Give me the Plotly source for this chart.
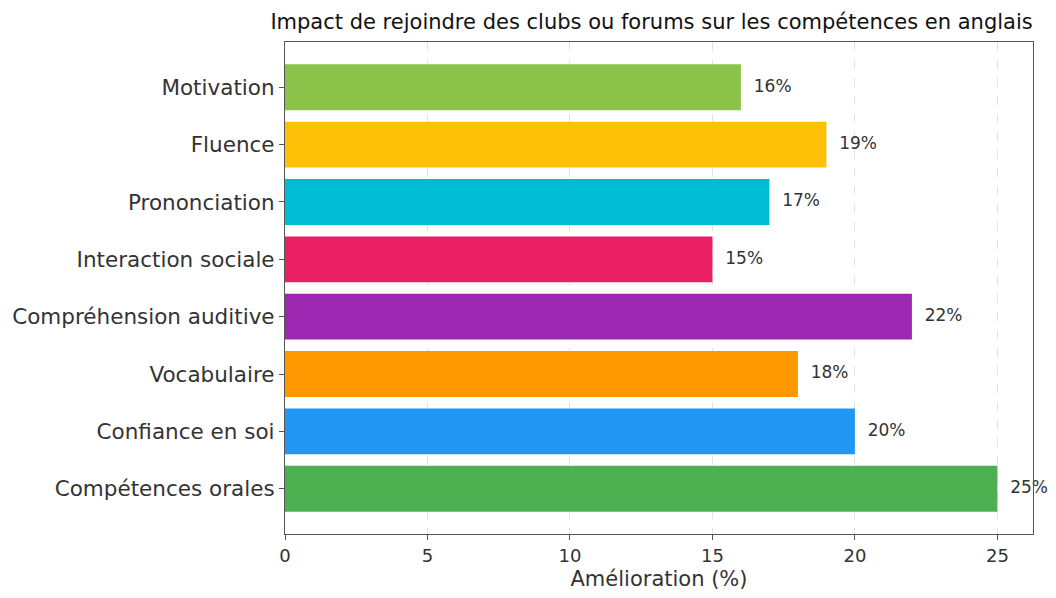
import plotly.graph_objects as go

# Skill areas, bottom to top, with improvement percentages
categories = [
    "Compétences orales",
    "Confiance en soi",
    "Vocabulaire",
    "Compréhension auditive",
    "Interaction sociale",
    "Prononciation",
    "Fluence",
    "Motivation",
]
improvement = [25, 20, 18, 22, 15, 17, 19, 16]
bar_colors = [
    "#4CAF50", "#2196F3", "#FF9800", "#9C27B0",
    "#E91E63", "#00BCD4", "#FFC107", "#8BC34A",
]
tick_values = [0, 5, 10, 15, 20, 25]

FONT = "DejaVu Sans"
positions = list(range(len(categories)))

fig = go.Figure()
fig.add_trace(go.Bar(
    x=improvement,
    y=positions,
    orientation="h",
    width=0.8,
    marker=dict(color=bar_colors, line=dict(width=0)),
    hoverinfo="skip",
    showlegend=False,
))
fig.add_trace(go.Scatter(
    x=[v + 0.45 for v in improvement],
    y=positions,
    mode="text",
    text=[f"{v}%" for v in improvement],
    textposition="middle right",
    textfont=dict(family=FONT, size=17, color="#333333"),
    cliponaxis=False,
    hoverinfo="skip",
    showlegend=False,
))

fig.update_layout(
    width=1056,
    height=598,
    margin=dict(l=284, r=23, t=42, b=58),
    paper_bgcolor="white",
    plot_bgcolor="white",
    font=dict(family=FONT, color="#333333"),
    title=dict(
        text="Impact de rejoindre des clubs ou forums sur les compétences en anglais",
        x=0.617, xanchor="center", y=0.963, yanchor="middle",
        font=dict(family=FONT, size=21, color="#111111"),
    ),
    xaxis=dict(
        range=[0, 26.25],
        tickvals=tick_values,
        ticks="outside", ticklen=5, tickcolor="#555555",
        tickfont=dict(family=FONT, size=18, color="#333333"),
        showgrid=True, gridcolor="#e2e2e2", griddash="dash", gridwidth=1,
        showline=True, linecolor="#555555", linewidth=1.2, mirror=True,
        zeroline=False,
        title=dict(text="Amélioration (%)", standoff=6,
                   font=dict(family=FONT, size=21, color="#333333")),
    ),
    yaxis=dict(
        range=[-0.79, 7.79],
        tickvals=positions,
        ticktext=categories,
        ticks="outside", ticklen=5, tickcolor="#555555",
        tickfont=dict(family=FONT, size=21.5, color="#333333"),
        showgrid=False,
        showline=True, linecolor="#555555", linewidth=1.2, mirror=True,
        zeroline=False,
    ),
)

fig.write_html("out.html")
